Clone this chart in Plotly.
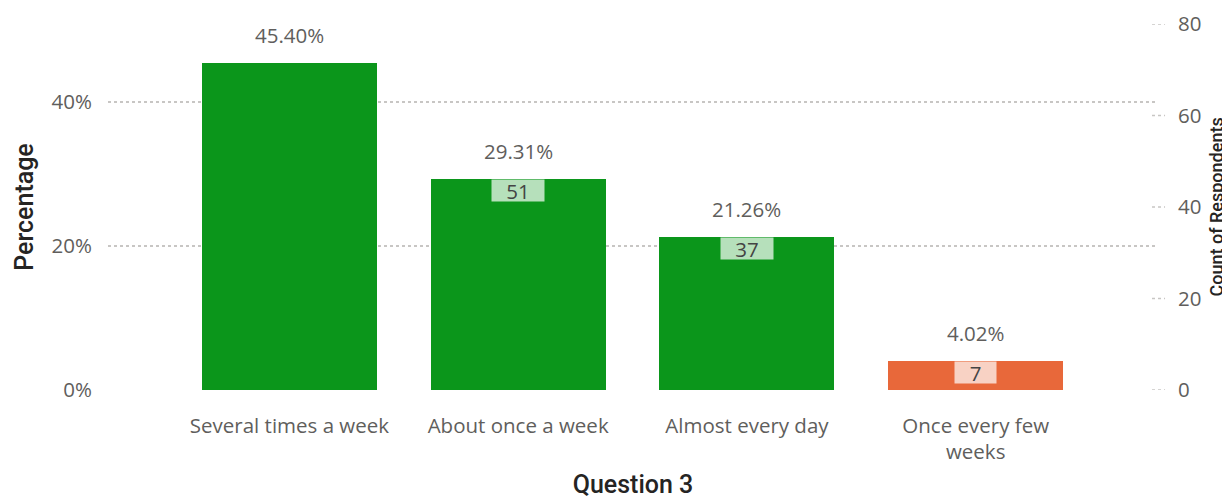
import plotly.graph_objects as go

categories = ["Several times a week", "About once a week", "Almost every day", "Once every few weeks"]
tick_text = ["Several times a week", "About once a week", "Almost every day", "Once every few<br>weeks"]
percentages = [0.4540, 0.2931, 0.2126, 0.0402]
counts = [79, 51, 37, 7]
show_count_label = [False, True, True, True]
bar_colors = ["#0B961B", "#0B961B", "#0B961B", "#E8683A"]
pct_ticks = [0, 0.2, 0.4]
count_ticks = [0, 20, 40, 60, 80]

FONT = "Segoe UI, Open Sans, sans-serif"
TFONT = "Roboto, sans-serif"
TICK_COLOR = "#605E5C"
TITLE_COLOR = "#252423"
FS = 20.5

fig = go.Figure()
fig.add_trace(go.Bar(
    x=categories, y=percentages, marker=dict(color=bar_colors, line=dict(width=0)),
    width=0.765, hoverinfo="skip", showlegend=False,
))
fig.add_trace(go.Scatter(
    x=categories, y=counts, yaxis="y2", mode="markers",
    marker=dict(opacity=0), hoverinfo="skip", showlegend=False,
))

annotations = []
for c, p, n, show in zip(categories, percentages, counts, show_count_label):
    annotations.append(dict(
        x=c, y=p, xref="x", yref="y", text=f"{p*100:.2f}%", showarrow=False,
        yanchor="middle", yshift=28, font=dict(family=FONT, size=FS, color=TICK_COLOR),
    ))
    if show:
        annotations.append(dict(
            x=c, y=p, xref="x", yref="y", text=str(n), showarrow=False,
            yanchor="top", font=dict(family=FONT, size=FS, color="#444444"),
            bgcolor="rgba(255,255,255,0.7)", width=14 + 11 * len(str(n)) + 12, height=17, borderpad=2,
        ))

annotations.append(dict(
    x=1.0676, y=0.5, xref="paper", yref="paper", text="Count of Respondents",
    textangle=-90, showarrow=False, xanchor="right", yanchor="middle",
    font=dict(family=TFONT, size=18, color=TITLE_COLOR, weight=500),
))

shapes = []
for t in count_ticks:
    shapes.append(dict(
        type="line", xref="paper", yref="y2", x0=0.9943, x1=1.0067, y0=t, y1=t,
        line=dict(color="#C8C6C4", width=1.5, dash="dot"),
    ))

fig.update_layout(
    width=1222, height=492,
    margin=dict(l=100, r=72, t=16, b=110),
    paper_bgcolor="white", plot_bgcolor="white",
    bargap=0,
    annotations=annotations, shapes=shapes,
    xaxis=dict(
        type="category", range=[-0.793, 3.797], automargin=False,
        tickvals=categories, ticktext=tick_text,
        showgrid=False, showline=False, zeroline=False, ticks="",
        tickfont=dict(family=FONT, size=FS, color=TICK_COLOR),
        ticklabelstandoff=21,
        title=dict(text="Question 3", font=dict(family=TFONT, size=25, color=TITLE_COLOR, weight=500), standoff=11),
    ),
    yaxis=dict(
        range=[0, 0.5083], tickvals=pct_ticks, tickformat=".0%", automargin=False,
        showgrid=True, gridcolor="#C8C6C4", griddash="dot", gridwidth=1.5,
        zeroline=False, showline=False, ticks="",
        tickfont=dict(family=FONT, size=FS, color=TICK_COLOR),
        ticklabelstandoff=15,
        title=dict(text="Percentage", font=dict(family=TFONT, size=25, color=TITLE_COLOR, weight=500), standoff=10),
    ),
    yaxis2=dict(
        overlaying="y", side="right", range=[0, 80], tickvals=count_ticks, automargin=False,
        showgrid=False, zeroline=False, showline=False, ticks="",
        tickfont=dict(family=FONT, size=FS, color=TICK_COLOR),
        ticklabelstandoff=19, ticklabeloverflow="allow",
    ),
)

fig.write_html("out.html")
